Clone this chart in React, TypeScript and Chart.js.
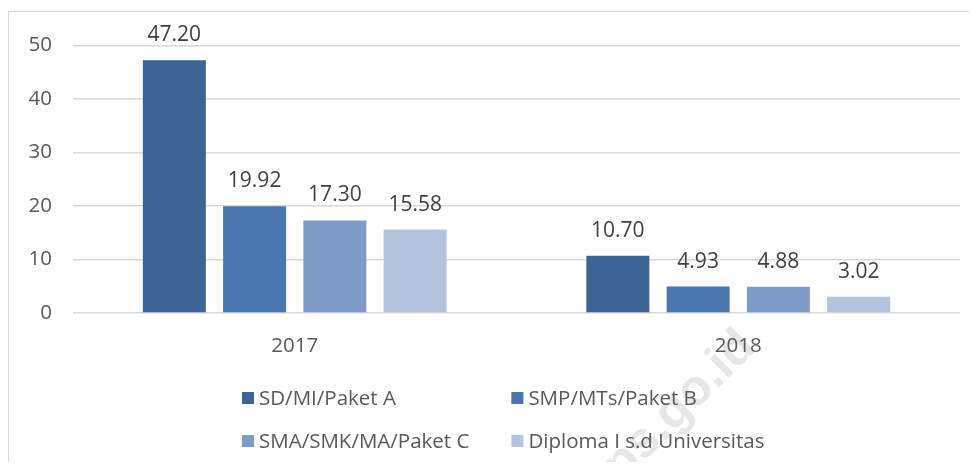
import React, { useEffect, useRef } from "react";
import { Chart, registerables } from "chart.js";

Chart.register(...registerables);

const categories = ["2017", "2018"];
const seriesNames = [
  "SD/MI/Paket A",
  "SMP/MTs/Paket B",
  "SMA/SMK/MA/Paket C",
  "Diploma I s.d Universitas",
];
const sdValues = [47.2, 10.7];
const smpValues = [19.92, 4.93];
const smaValues = [17.3, 4.88];
const diplomaValues = [15.58, 3.02];
const seriesColors = ["#3D6496", "#4976AF", "#7F9CC8", "#B4C4DF"];
const yTicks = [0, 10, 20, 30, 40, 50];

const FONT = "'Open Sans', 'Noto Sans', sans-serif";

const dataLabelPlugin = {
  id: "dataLabels",
  afterDatasetsDraw(chart: any) {
    const ctx = chart.ctx;
    ctx.save();
    ctx.font = `21px ${FONT}`;
    ctx.fillStyle = "#404040";
    ctx.textAlign = "center";
    ctx.textBaseline = "middle";
    chart.data.datasets.forEach((ds: any, i: number) => {
      const meta = chart.getDatasetMeta(i);
      meta.data.forEach((bar: any, j: number) => {
        ctx.fillText(Number(ds.data[j]).toFixed(2), bar.x, bar.y - 25);
      });
    });
    ctx.restore();
  },
};

const watermarkPlugin = {
  id: "watermark",
  beforeDraw(chart: any) {
    const ctx = chart.ctx;
    ctx.save();
    ctx.translate(660, 405);
    ctx.rotate(-0.78);
    ctx.font = `bold 50px 'Liberation Sans', Arial, sans-serif`;
    ctx.fillStyle = "#e6e6e6";
    ctx.textAlign = "center";
    ctx.textBaseline = "middle";
    ctx.fillText("bps.go.id", 0, 0);
    ctx.restore();
  },
};

const legendPlugin = {
  id: "customLegend",
  afterDraw(chart: any) {
    const ctx = chart.ctx;
    ctx.save();
    ctx.font = `20.5px ${FONT}`;
    ctx.textBaseline = "middle";
    ctx.textAlign = "left";
    const ds = chart.data.datasets;
    const box = 12;
    const gapText = 5;
    const colGap = 42;
    const rows = [386, 429];
    const cols = 2;
    const colW = [0, 0];
    ds.forEach((d: any, i: number) => {
      const c = i % cols;
      const w = box + gapText + ctx.measureText(d.label).width;
      colW[c] = Math.max(colW[c], w);
    });
    const startX = chart.chartArea.left + 169;
    ds.forEach((d: any, i: number) => {
      const c = i % cols;
      const r = Math.floor(i / cols);
      const x = c === 0 ? startX : startX + colW[0] + colGap;
      const y = rows[r];
      ctx.fillStyle = d.backgroundColor;
      ctx.fillRect(x, y - box / 2, box, box);
      ctx.fillStyle = "#595959";
      ctx.fillText(d.label, x + box + gapText, y + 1);
    });
    ctx.restore();
  },
};

export default function App() {
  const ref = useRef<HTMLCanvasElement>(null);
  useEffect(() => {
    if (!ref.current) return;
    const values = [sdValues, smpValues, smaValues, diplomaValues];
    const chart = new Chart(ref.current, {
      type: "bar",
      data: {
        labels: categories,
        datasets: seriesNames.map((name, i) => ({
          label: name,
          data: values[i],
          backgroundColor: seriesColors[i],
          borderWidth: 0,
          categoryPercentage: 0.724,
          barPercentage: 0.785,
        })),
      },
      options: {
        animation: false,
        responsive: false,
        maintainAspectRatio: false,
        layout: { padding: { left: 0, right: 9, top: 29, bottom: 106 } },
        plugins: {
          legend: { display: false },
          tooltip: { enabled: false },
        },
        scales: {
          x: {
            grid: { display: false, drawTicks: false },
            border: { display: false },
            ticks: {
              font: { family: FONT, size: 20.5 },
              color: "#595959",
              padding: 21,
            },
            afterFit(scale: any) {
              scale.height = 43;
            },
          },
          y: {
            min: 0,
            max: 50,
            afterBuildTicks(scale: any) {
              scale.ticks = yTicks.map((v) => ({ value: v }));
            },
            grid: { color: "#d9d9d9", lineWidth: 1.5, drawTicks: false },
            border: { display: false },
            ticks: {
              font: { family: FONT, size: 20.5 },
              color: "#595959",
              padding: 21,
            },
            afterFit(scale: any) {
              scale.width = 64;
            },
          },
        },
      },
      plugins: [watermarkPlugin, dataLabelPlugin, legendPlugin],
    });
    return () => chart.destroy();
  }, []);

  return (
    <div style={{ paddingTop: 3 }}>
      <div
        style={{
          width: 960,
          height: 450,
          borderLeft: "1.5px solid #d9d9d9",
          borderTop: "1.5px solid #d9d9d9",
        }}
      >
        <canvas ref={ref} width={960} height={450} style={{ display: "block" }} />
      </div>
    </div>
  );
}
